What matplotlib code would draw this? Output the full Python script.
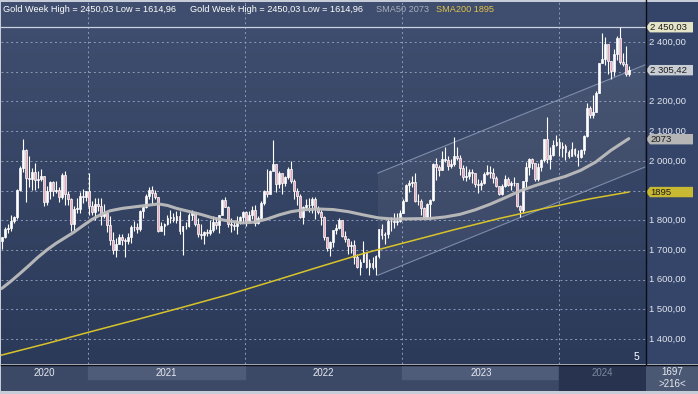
import matplotlib
matplotlib.use('Agg')
import matplotlib.pyplot as plt
from matplotlib.colors import LinearSegmentedColormap
from matplotlib.patches import Polygon
from matplotlib.lines import Line2D
import numpy as np
import pandas as pd

# ---------------- data (weekly candles) ----------------
weeks = pd.date_range('2020-06-15', periods=209, freq='W-MON')
first_open = 1729

closes = [1743, 1771, 1774, 1799, 1810, 1902, 1975, 2035, 1944, 1940, 1964, 1934, 1940, 1950, 1862, 1900,
          1930, 1899, 1902, 1879, 1951, 1889, 1871, 1788, 1839, 1839, 1882, 1877, 1898,
          1849, 1829, 1855, 1848, 1814, 1824, 1784, 1734, 1700, 1719, 1745, 1732, 1729, 1744, 1777, 1777,
          1769, 1831, 1844, 1881, 1903, 1891, 1877, 1764, 1781, 1787, 1808, 1812, 1802, 1814, 1763, 1780,
          1781, 1817, 1827, 1787, 1754, 1750, 1761, 1757, 1767, 1793, 1783, 1818, 1868, 1846, 1788, 1783,
          1782, 1798, 1811, 1829,
          1797, 1817, 1835, 1791, 1808, 1859, 1898, 1889, 1966, 1989, 1921, 1958, 1925, 1946, 1974, 1931,
          1897, 1883, 1811, 1846, 1853, 1851, 1871, 1840, 1827, 1811, 1742, 1708, 1727, 1766, 1775, 1802,
          1747, 1737, 1712, 1717, 1675, 1643, 1661, 1694, 1644, 1657, 1644, 1681, 1771, 1751, 1755, 1797,
          1797, 1793, 1798, 1824,
          1865, 1920, 1926, 1928, 1865, 1865, 1842, 1811, 1856, 1868, 1989, 1978, 1969, 2008, 2004, 1983,
          1990, 2017, 2011, 1977, 1946, 1948, 1961, 1958, 1921, 1919, 1925, 1955, 1962, 1959, 1943, 1914,
          1889, 1915, 1940, 1919, 1924, 1925, 1849, 1833, 1932, 1981, 2006, 1992, 1940, 1981, 2002, 2072,
          2005, 2019, 2053, 2063,
          2045, 2049, 2029, 2018, 2039, 2024, 2013, 2035, 2083, 2179, 2155, 2165, 2230, 2329, 2344, 2392,
          2337, 2302, 2360, 2415, 2334, 2327, 2294, 2305]

highs = [1745, 1779, 1789, 1818, 1815, 1906, 1984, 2075, 2040, 2015, 1976, 1992, 1966, 1973, 1950, 1917,
         1933, 1933, 1932, 1911, 1960, 1965, 1900, 1876, 1848, 1875, 1896, 1906, 1900,
         1959, 1864, 1875, 1875, 1875, 1855, 1826, 1815, 1760, 1740, 1755, 1755, 1740, 1758, 1785, 1797,
         1790, 1835, 1846, 1890, 1913, 1916, 1903, 1877, 1795, 1790, 1818, 1834, 1825, 1832, 1831, 1782,
         1795, 1823, 1834, 1827, 1809, 1788, 1764, 1770, 1801, 1814, 1810, 1819, 1870, 1877, 1849, 1808,
         1793, 1815, 1814, 1831,
         1831, 1830, 1848, 1853, 1815, 1865, 1902, 1974, 1970, 2070, 1990, 1966, 1960, 1948, 1978, 1998,
         1939, 1910, 1887, 1849, 1870, 1874, 1880, 1879, 1848, 1836, 1813, 1745, 1730, 1768, 1788, 1807,
         1802, 1765, 1740, 1729, 1735, 1688, 1670, 1730, 1686, 1668, 1675, 1682, 1772, 1787, 1760, 1804,
         1810, 1824, 1823, 1833,
         1870, 1922, 1935, 1949, 1959, 1890, 1870, 1846, 1858, 1870, 1992, 2010, 1985, 2032, 2048, 2015,
         2005, 2079, 2048, 2020, 1985, 1983, 1971, 1971, 1959, 1938, 1935, 1963, 1987, 1983, 1977, 1948,
         1917, 1922, 1953, 1945, 1933, 1947, 1927, 1852, 1933, 1997, 2009, 2010, 1993, 1993, 2008, 2075,
         2148, 2047, 2070, 2088,
         2078, 2062, 2057, 2037, 2065, 2044, 2036, 2041, 2088, 2195, 2185, 2222, 2236, 2330, 2431, 2417,
         2352, 2335, 2378, 2422, 2450, 2364, 2388, 2318]

lows = [1704, 1740, 1757, 1764, 1791, 1803, 1899, 1964, 1863, 1912, 1902, 1902, 1907, 1932, 1848, 1851,
        1873, 1882, 1891, 1860, 1870, 1850, 1853, 1764, 1768, 1823, 1825, 1859, 1866,
        1817, 1817, 1802, 1831, 1785, 1807, 1760, 1717, 1687, 1676, 1719, 1718, 1677, 1721, 1724, 1765,
        1757, 1765, 1808, 1840, 1870, 1856, 1870, 1761, 1767, 1750, 1784, 1792, 1794, 1790, 1753, 1682,
        1772, 1778, 1801, 1782, 1745, 1738, 1721, 1746, 1750, 1760, 1770, 1758, 1817, 1844, 1778, 1762,
        1766, 1753, 1789, 1790,
        1782, 1790, 1805, 1780, 1788, 1807, 1850, 1878, 1890, 1975, 1895, 1910, 1890, 1915, 1940, 1925,
        1872, 1851, 1807, 1787, 1836, 1829, 1825, 1805, 1822, 1784, 1732, 1697, 1681, 1711, 1754, 1771,
        1745, 1727, 1688, 1691, 1654, 1639, 1615, 1660, 1640, 1617, 1637, 1616, 1672, 1737, 1721, 1740,
        1765, 1773, 1784, 1795,
        1824, 1866, 1896, 1911, 1862, 1853, 1818, 1806, 1805, 1809, 1866, 1935, 1950, 1968, 1995, 1969,
        1975, 1983, 2002, 1952, 1937, 1933, 1939, 1925, 1911, 1893, 1902, 1921, 1952, 1942, 1926, 1911,
        1885, 1884, 1912, 1914, 1901, 1914, 1845, 1810, 1823, 1908, 1954, 1971, 1932, 1931, 1965, 1996,
        1993, 1973, 2016, 2051,
        2017, 2013, 2002, 2010, 2017, 2015, 1984, 2010, 2024, 2080, 2146, 2146, 2163, 2228, 2328, 2324,
        2291, 2277, 2285, 2339, 2325, 2320, 2287, 2286]

# moving averages (week index, value)
sma50_idx = [0, 3, 6, 9, 12, 15, 18, 21, 24, 27, 30, 33, 36, 40, 44, 48, 52, 55, 58, 62, 66, 70, 75, 80,
             84, 88, 92, 96, 100, 105, 110, 115, 120, 125, 130, 136, 142, 147, 152, 157, 162, 167, 172,
             177, 182, 187, 192, 197, 202, 208]
sma50_val = [1570, 1594, 1620, 1647, 1675, 1700, 1722, 1741, 1760, 1782, 1803, 1820, 1832, 1840, 1845, 1850,
             1855, 1850, 1840, 1830, 1820, 1808, 1798, 1791, 1794, 1804, 1818, 1829, 1835, 1838, 1836, 1829,
             1818, 1808, 1804, 1805, 1806, 1811, 1820, 1835, 1854, 1876, 1899, 1917, 1933, 1948, 1968, 1996,
             2035, 2075]
sma200_idx = [0, 15, 30, 45, 60, 75, 90, 105, 120, 135, 150, 165, 180, 195, 208]
sma200_val = [1346, 1385, 1426, 1466, 1507, 1549, 1595, 1642, 1688, 1728, 1768, 1806, 1840, 1872, 1895]

# trend channel (week index, upper, lower)
chan_idx = [124.8, 213.3]
chan_up = [1959, 2323]
chan_lo = [1615, 1979]

years = ['2020', '2021', '2022', '2023', '2024']
yticks = [1400, 1500, 1600, 1700, 1800, 2000, 2100, 2200, 2400]   # 1900 / 2300 sit under the markers
hi_val, lo_val, last_val = 2450.03, 1614.96, 2305.42

# ---------------- layout helpers ----------------
W, H = 698, 394


def px(l, t, r, b):
    return [l / W, 1 - b / H, (r - l) / W, (b - t) / H]


font = 'Liberation Sans'
fs = 7
hfs = 6.6
XMIN, XMAX = -0.2, 213.7
YMIN, YMAX = 1316, 2535

fig = plt.figure(figsize=(W / 100, H / 100), dpi=100)
fig.patch.set_facecolor('#c6cdd8')

# right price panel (added first so main axes draws over it)
rp = fig.add_axes(px(646, 2, 698, 364))
rp.set_xlim(0, 52)
rp.set_ylim(YMIN, YMAX)
rp.axis('off')
rp.add_patch(plt.Rectangle((0, 0), 1, 1, transform=rp.transAxes, color='#35456a', zorder=-5))

ax = fig.add_axes(px(1, 2, 646, 364))
ax.axis('off')
bg = LinearSegmentedColormap.from_list('bg', ['#404f6f', '#2c3a5a'])
ax.imshow(np.linspace(0, 1, 256).reshape(-1, 1), cmap=bg, extent=[0, 1, 0, 1],
          transform=ax.transAxes, aspect='auto', zorder=-10)
ax.set_xlim(XMIN, XMAX)
ax.set_ylim(YMIN, YMAX)

# year boundaries as fractional week index
start = weeks[0]
bounds = [(pd.Timestamp(f'{y}-01-01') - start).days / 7 for y in range(2021, 2025)]

grid_kw = dict(color='#8e9cba', lw=0.7, ls=(0, (2, 3)), zorder=0)
for v in range(1400, 2500, 100):
    ax.axhline(v, **grid_kw)
for b in bounds:
    ax.axvline(b, **grid_kw)

# channel
cx = chan_idx + chan_idx[::-1]
cy = chan_up + chan_lo[::-1]
ax.add_patch(Polygon(list(zip(cx, cy)), closed=True, fc='#ffffff', alpha=0.05, ec='none', zorder=1))
ax.plot(chan_idx, chan_up, color='#8f9dbd', lw=0.8, alpha=0.8, zorder=1)
ax.plot(chan_idx, chan_lo, color='#8f9dbd', lw=0.8, alpha=0.8, zorder=1)

# high line
ax.axhline(hi_val, color='#c9d2e2', lw=0.9, zorder=2)

# candles
opens = [first_open] + closes[:-1]
x = np.arange(len(closes))
o = np.array(opens, dtype=float)
c = np.array(closes, dtype=float)
ax.vlines(x, lows, highs, color='white', lw=0.8, zorder=3)
body_lo = np.minimum(o, c)
body_h = np.maximum(np.abs(c - o), 1.5)
cols = ['white' if cc >= oo else '#e9a6b8' for oo, cc in zip(o, c)]
ax.bar(x, body_h, bottom=body_lo, width=0.62, color=cols, edgecolor='white', linewidth=0.5, zorder=4)

# moving averages
ax.plot(sma200_idx, sma200_val, color='#d8c42a', lw=1.1, zorder=5)
ax.plot(sma50_idx, sma50_val, color='#bdbdbd', lw=2.2, alpha=0.95, zorder=5,
        solid_capstyle='round', solid_joinstyle='round')

# header legend
ytxt = 1 - 7 / 362
head = 'Gold Week High = 2450,03 Low = 1614,96'
ax.text(2 / 645, ytxt, head, transform=ax.transAxes, color='white', fontsize=hfs, family=font, va='center')
ax.text(189 / 645, ytxt, head, transform=ax.transAxes, color='white', fontsize=hfs, family=font, va='center')
ax.text(375 / 645, ytxt, 'SMA50 2073', transform=ax.transAxes, color='#aab0bc', fontsize=hfs, family=font,
        va='center')
ax.text(435 / 645, ytxt, 'SMA200 1895', transform=ax.transAxes, color='#e2c24a', fontsize=hfs, family=font,
        va='center')
ax.text(638 / 645, 7 / 362, '5', transform=ax.transAxes, color='white', fontsize=fs + 0.5, family=font,
        ha='right', va='center')


def fmt(v):
    s = f'{v:,.2f}'
    return s.replace(',', ' ').replace('.', ',')


for v in yticks:
    rp.text(3, v, fmt(v), color='#e2e6ee', fontsize=6.8, family=font, va='center')

# price markers on the right panel
hh = 5.2 / 0.297


def marker(v, label, fc, tc='#1c1c1c', dy=0.0):
    pts = [(0, v), (4, v + hh), (47, v + hh), (47, v - hh), (4, v - hh)]
    rp.add_patch(Polygon(pts, closed=True, fc=fc, ec='none', zorder=5))
    rp.text(4, v + dy, label, color=tc, fontsize=6.8, family=font, va='center', zorder=6)


marker(hi_val, '2 450,03', '#e4e4c8')
marker(last_val, '2 305,42', '#c9cdd4')
marker(2073, '2073', '#b6b6b6', dy=-2)
marker(1895, '1895', '#c9b932')

# bottom year band
bb = fig.add_axes(px(1, 365, 646, 391))
bb.set_xlim(XMIN, XMAX)
bb.set_ylim(0, 1)
bb.axis('off')
bb.add_patch(plt.Rectangle((0, 0), 1, 1, transform=bb.transAxes, color='#3b4967', zorder=-5))
edges = [XMIN] + bounds + [XMAX]
for k, yr in enumerate(years):
    a, b = edges[k], edges[k + 1]
    if yr in ('2021', '2023'):
        bb.axvspan(a, b, ymin=0.46, ymax=1.0, color='#4e5c79', zorder=0)
    if yr == '2024':
        bb.axvspan(a, b, color='#27334f', zorder=0)
    tc = '#7d889e' if yr == '2024' else '#e6e9ef'
    bb.text((a + b) / 2, 0.69, yr, color=tc, fontsize=fs, family=font, ha='center', va='center')

cb = fig.add_axes(px(646, 365, 698, 391))
cb.axis('off')
cb.add_patch(plt.Rectangle((0, 0), 1, 1, transform=cb.transAxes, color='#4b5874', zorder=-5))
cb.text(0.5, 0.72, '1697', color='#e6e9ef', fontsize=fs, family=font, ha='center', va='center')
cb.text(0.5, 0.28, '>216<', color='#e6e9ef', fontsize=fs, family=font, ha='center', va='center')

# separators
fig.add_artist(Line2D([646 / W, 646 / W], [1 - 364 / H, 1], color='#0c0c14', lw=1.0))
fig.add_artist(Line2D([1 / W, 1], [1 - 364.5 / H, 1 - 364.5 / H], color='#0c0c14', lw=1.0))

fig.savefig('out.png', dpi=100, facecolor=fig.get_facecolor())
